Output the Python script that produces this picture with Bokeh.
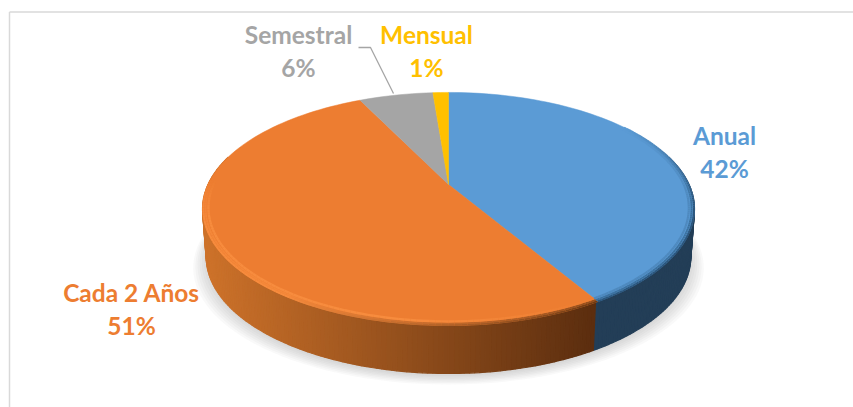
import math
from bokeh.plotting import figure
from bokeh.models import Range1d
from bokeh.core.properties import value
from bokeh.embed import file_html
from bokeh.resources import INLINE

categories = ["Anual", "Cada 2 Años", "Semestral", "Mensual"]
percent_labels = ["42%", "51%", "6%", "1%"]
shares = [41.5, 51.3, 5.95, 1.25]
colors = ["#5B9BD5", "#ED7D31", "#A5A5A5", "#FFC000"]
label_colors = ["#5B9BD5", "#ED7D31", "#A5A5A5", "#FFC000"]
label_x = [724, 131, 298, 426]
label_y = [135, 292, 34, 34]
pct_y = [168, 325, 67, 67]

W, H = 853, 407
CX, CY, A, B, K = 448, 184, 111.4, 240.5, 0.21
DEPTH, BOT_SCALE = 48, 0.985
total = sum(shares)


def proj(t, r=1.0, dy=0.0, sx=1.0):
    u, v = r * math.sin(t), -r * math.cos(t)
    d = 1 - K * v
    return CX + sx * B * u / d, CY + dy + A * v / d


def arc(t0, t1, n, **kw):
    steps = [t0 + (t1 - t0) * i / n for i in range(n + 1)]
    return [proj(t, **kw) for t in steps]


def blend(c0, c1, f):
    f = max(0, min(1, f))
    return tuple(round(a + (b - a) * f) for a, b in zip(c0, c1))


def mix(c0, c1, f):
    return "#%02x%02x%02x" % blend(c0, c1, f)


p = figure(width=W, height=H, output_backend="svg", toolbar_location=None,
           x_range=Range1d(0, W), y_range=Range1d(H, 0),
           x_axis_type=None, y_axis_type=None, min_border=0,
           outline_line_color=None, background_fill_color="white",
           border_fill_color="white")
p.grid.visible = False

# frame of the original picture
p.line([9, 9], [11.5, H], line_color="#D9D9D9", line_width=1.5)
p.line([9, W], [11.5, 11.5], line_color="#D9D9D9", line_width=1.5)

# soft shadow under the pie
for i in range(7):
    pts = arc(0, 2 * math.pi, 140, dy=DEPTH + 11 - i * 1.4, sx=0.985 + 0.016 * (6 - i) * 0.55)
    p.patch([q[0] for q in pts], [q[1] for q in pts], fill_color="#7F7F7F",
            fill_alpha=0.045, line_color=None)

# slice boundaries, clockwise from twelve o'clock
bounds = [0.0]
for s in shares:
    bounds.append(bounds[-1] + 2 * math.pi * s / total)

# side wall, drawn as narrow strips so that it can shade from left to right
N = 210
t_a, t_b = math.radians(75), math.radians(285)
xs_all, ys_all, fills = [], [], []
for i in range(N):
    t0 = t_a + (t_b - t_a) * i / N
    t1 = t_a + (t_b - t_a) * (i + 1) / N
    a0, a1 = proj(t0), proj(t1)
    b0, b1 = proj(t0, dy=DEPTH, sx=BOT_SCALE), proj(t1, dy=DEPTH, sx=BOT_SCALE)
    xs_all.append([a0[0], a1[0], b1[0], b0[0]])
    ys_all.append([a0[1], a1[1], b1[1], b0[1]])
    if t0 < bounds[1]:
        fills.append("#233E57")
    else:
        fills.append(mix((205, 114, 42), (92, 46, 15), (a0[0] - 205) / (593 - 205)))
p.patches(xs_all, ys_all, fill_color=fills, line_color=fills, line_width=1.2)

# top face
for i, c in enumerate(colors):
    pts = arc(bounds[i], bounds[i + 1], max(4, int(shares[i] * 2)))
    xs = [CX] + [q[0] for q in pts]
    ys = [CY] + [q[1] for q in pts]
    p.patch(xs, ys, fill_color=c, line_color=c, line_width=0.5)

# bevel round the near rim, segment by segment: bright on the left, dark on the right
ORANGE, BRIGHT = (237, 125, 49), (247, 140, 62)
BLUE = (91, 155, 213)
rings = [(0.997, 2.0, 0.55), (0.988, 2.0, 0.25), (0.977, 2.4, 0.0)]
seg_x, seg_y, seg_c, seg_w = [], [], [], []
M = 100
t_s, t_e = bounds[1], math.radians(272)
for r, w, dark in rings:
    for i in range(M):
        a = t_s + (t_e - t_s) * i / M
        b = t_s + (t_e - t_s) * (i + 1) / M
        q0, q1 = proj(a, r=r), proj(b, r=r)
        along = (i + 0.5) / M            # 0 at the blue boundary, 1 at the far left
        if dark == 0.0:
            col = mix(ORANGE, BRIGHT, min(1, along * 3) * min(1, (1 - along) * 7))
        else:
            shade = blend((110, 58, 20), BRIGHT, along * 1.9)
            col = mix(ORANGE, shade, (dark + 0.45) * min(1, (1 - along) * 7))
        seg_x.append([q0[0], q1[0]])
        seg_y.append([q0[1], q1[1]])
        seg_c.append(col)
        seg_w.append(w)

# the same on the blue slice, fading in from the upper right
t_s, t_e = math.radians(55), bounds[1]
for r, w, dark in [(0.998, 2.0, (44, 86, 124)), (0.989, 2.0, (60, 113, 159)), (0.978, 2.2, (78, 137, 190))]:
    for i in range(M):
        a = t_s + (t_e - t_s) * i / M
        b = t_s + (t_e - t_s) * (i + 1) / M
        q0, q1 = proj(a, r=r), proj(b, r=r)
        seg_x.append([q0[0], q1[0]])
        seg_y.append([q0[1], q1[1]])
        seg_c.append(mix(BLUE, dark, (i + 0.5) / M * 2.2))
        seg_w.append(w)
p.multi_line(seg_x, seg_y, line_color=seg_c, line_width=seg_w)

# leader line of the Semestral label
p.line([358, 370, 393], [47, 47, 93], line_color="#A5A5A5", line_width=1.3)

font = value("Lato")
p.text(x=label_x, y=label_y, text=categories, text_color=label_colors,
       text_font=font, text_font_style="bold", text_font_size="24.5px",
       text_align="center", text_baseline="middle")
p.text(x=label_x, y=pct_y, text=percent_labels, text_color=label_colors,
       text_font=font, text_font_style="bold", text_font_size="24.5px",
       text_align="center", text_baseline="middle")

open("out.html", "w").write(file_html(p, INLINE))
